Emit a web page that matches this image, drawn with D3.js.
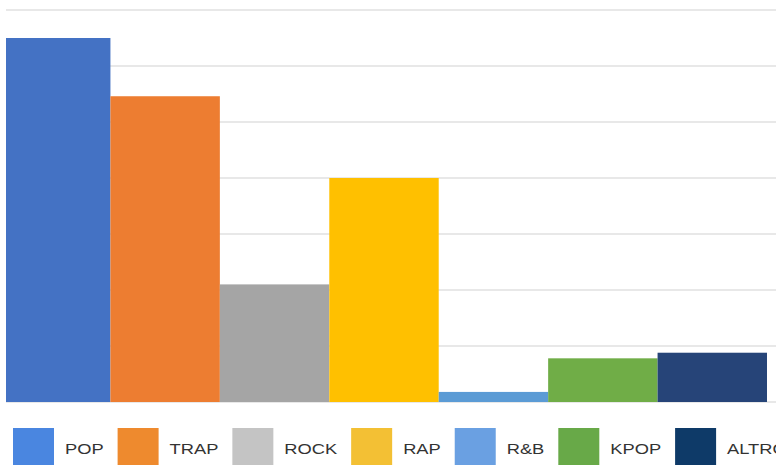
<!DOCTYPE html>
<html><head><meta charset="utf-8">
<script src="https://cdn.jsdelivr.net/npm/d3@7"></script>
<style>html,body{margin:0;padding:0;background:#fff;overflow:hidden}</style>
</head><body>
<svg id="chart" width="776" height="465"></svg>
<script>
const categories = ["POP", "TRAP", "ROCK", "RAP", "R&B", "KPOP", "ALTRO"];
const values = [32.5, 27.3, 10.5, 20, 0.9, 3.9, 4.4];
const yTicks = [0, 5, 10, 15, 20, 25, 30, 35];
const barColors = ["#4472C4", "#ED7D31", "#A5A5A5", "#FFC000", "#5B9BD5", "#70AD47", "#264478"];
const legendColors = ["#4a86e0", "#ee8a2e", "#c4c4c4", "#f3c034", "#6aa0e2", "#68a948", "#0e3a68"];

const svg = d3.select("#chart");
svg.append("defs").append("clipPath").attr("id", "plotclip")
  .append("rect").attr("x", 6).attr("y", 0).attr("width", 770).attr("height", 410);

const x = d3.scaleBand().domain(categories).range([1, 767]).padding(0);
const y = d3.scaleLinear().domain([0, 35]).range([402, 10]);

const plot = svg.append("g").attr("clip-path", "url(#plotclip)");

plot.append("g").selectAll("line").data(yTicks).join("line")
  .attr("x1", 0).attr("x2", 776)
  .attr("y1", d => y(d)).attr("y2", d => y(d))
  .attr("stroke", "#e8e8e8").attr("stroke-width", 2);

plot.append("g").selectAll("rect").data(categories).join("rect")
  .attr("x", d => x(d)).attr("width", x.bandwidth())
  .attr("y", (d, i) => y(values[i]))
  .attr("height", (d, i) => y(0) - y(values[i]))
  .attr("fill", (d, i) => barColors[i]);

// legend
const lg = svg.append("g");
let lx = 13;
categories.forEach((c, i) => {
  lg.append("rect").attr("x", lx).attr("y", 428).attr("width", 41).attr("height", 41)
    .attr("fill", legendColors[i]);
  const t = lg.append("text").attr("x", 0).attr("y", 0)
    .attr("transform", `translate(${lx + 52},454) scale(1.18,1)`)
    .attr("font-family", "Liberation Sans, Arial, sans-serif")
    .attr("font-size", 15.5).attr("fill", "#333").text(c);
  const w = t.node().getComputedTextLength() * 1.18;
  lx += 52 + w + 14;
});
</script>
</body></html>
